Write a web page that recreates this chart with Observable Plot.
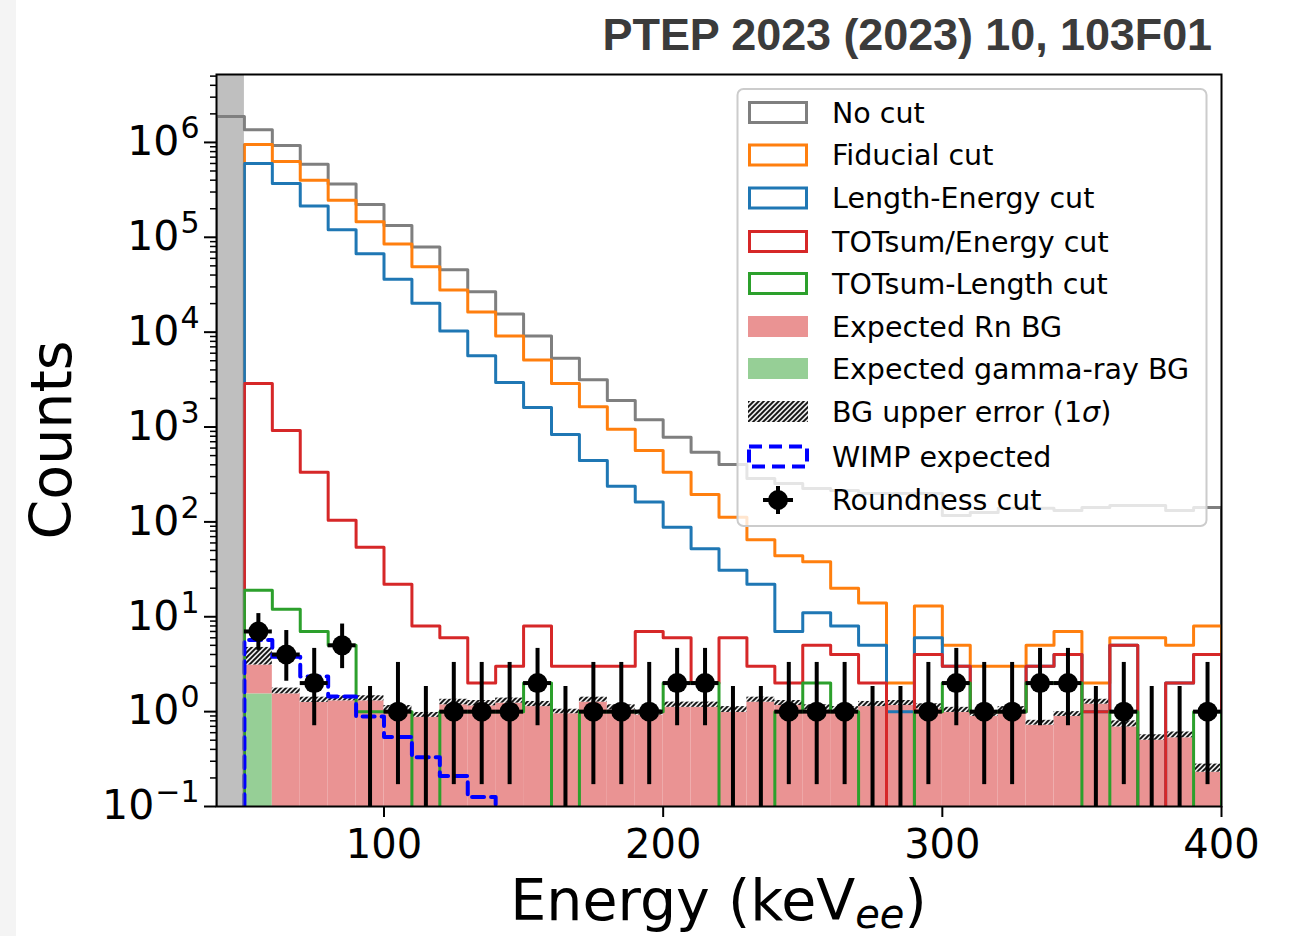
<!DOCTYPE html>
<html>
<head>
<meta charset="utf-8">
<script src="https://cdn.jsdelivr.net/npm/d3@7"></script>
<script src="https://cdn.jsdelivr.net/npm/@observablehq/plot@0.6"></script>
<style>
  html, body { margin: 0; padding: 0; background: #ffffff; }
  body { width: 1296px; height: 936px; position: relative; overflow: hidden; font-family: "DejaVu Sans", sans-serif; }
  #edge { position: absolute; left: 0; top: 0; width: 16px; height: 936px; background: #f4f4f4; }
  #header { position: relative; height: 64px; }
  #title { position: absolute; right: 84px; top: 12px; font: bold 45px "Liberation Sans", Arial, sans-serif; line-height: 45px; color: #3b3b3b; white-space: nowrap; letter-spacing: -0.1px; }
  #chart { position: absolute; left: 0; top: 64px; }
</style>
</head>
<body>
<div id="edge"></div>
<div id="header"><div id="title">PTEP 2023 (2023) 10, 103F01</div></div>
<div id="chart"></div>
<script>
// ---- Energy spectrum after each event-selection step (10 keV bins) ----
const binWidth = 10;
const binLow = [50, 60, 70, 80, 90, 100, 110, 120, 130, 140, 150, 160, 170, 180, 190, 200, 210, 220,
  230, 240, 250, 260, 270, 280, 290, 300, 310, 320, 330, 340, 350, 360, 370, 380, 390];

// "No cut" also has the 40-50 keV bin below threshold
const noCutLow = [40, ...binLow];
const noCut = [1.88e6, 1.36e6, 9.3e5, 5.9e5, 3.65e5, 2.22e5, 1.33e5, 7.9e4, 4.55e4, 2.67e4, 1.55e4,
  9.1e3, 5.3e3, 3.15e3, 1.9e3, 1.19e3, 780, 542, 402, 287, 254, 225, 214, 199, 199, 199,
  117, 126, 139, 139, 132, 142, 149, 149, 132, 142];
const fiducial = [9.5e5, 6.3e5, 4.0e5, 2.46e5, 1.46e5, 8.5e4, 4.9e4, 2.79e4, 1.63e4, 9.1e3, 5.1e3,
  2.88e3, 1.64e3, 946, 565, 334, 195, 112, 65, 44, 38, 20, 14, 2, 13, 5, 3, 3, 5, 7, 2, 6, 6, 5, 8];
const lengthEnergy = [5.98e5, 3.69e5, 2.14e5, 1.2e5, 6.7e4, 3.61e4, 2.02e4, 1.03e4, 5.64e3, 2.95e3,
  1.61e3, 832, 443, 238, 162, 88, 52, 31, 22, 7, 11, 8, 5, 1, 6, 3, 1, 1, 3, 4, 1, 5, 0, 2, 4];
const totEnergy = [2.88e3, 917, 334, 104, 54, 22, 8, 6, 2, 3, 8, 3, 3, 3, 7, 6, 2, 6, 3, 2, 5, 4, 2,
  0, 4, 3, 1, 1, 3, 4, 1, 5, 0, 2, 4];
const totLength = [19, 12, 7, 5, 1, 1, 0, 1, 1, 1, 2, 0, 1, 1, 1, 2, 2, 0, 0, 1, 2, 1, 0, 0, 1, 2,
  1, 1, 2, 2, 0, 1, 0, 0, 1];

// Final sample (roundness cut) with 1-sigma Poisson intervals
const roundness = [7, 4, 2, 5, 0, 1, 0, 1, 1, 1, 2, 0, 1, 1, 1, 2, 2, 0, 0, 1, 1, 1, 0, 0, 1, 2,
  1, 1, 2, 2, 0, 1, 0, 0, 1];
const errLow = [4.42, 2.09, 0.71, 2.84, 0, 0.17, 0, 0.17, 0.17, 0.17, 0.71, 0, 0.17, 0.17, 0.17,
  0.71, 0.71, 0, 0, 0.17, 0.17, 0.17, 0, 0, 0.17, 0.71, 0.17, 0.17, 0.71, 0.71, 0, 0.17, 0, 0, 0.17];
const errHigh = [10.8, 7.16, 4.64, 8.38, 1.84, 3.3, 1.84, 3.3, 3.3, 3.3, 4.64, 1.84, 3.3, 3.3, 3.3,
  4.64, 4.64, 1.84, 1.84, 3.3, 3.3, 3.3, 1.84, 1.84, 3.3, 4.64, 3.3, 3.3, 4.64, 4.64, 1.84, 3.3,
  1.84, 1.84, 3.3];

// Expected backgrounds and upper 1-sigma error on their sum
const rnBG = [1.56, 1.54, 1.25, 1.30, 1.30, 1.02, 0.87, 1.18, 1.15, 1.23, 1.13, 0.95, 1.26, 1.04,
  0.92, 1.11, 1.11, 0.98, 1.26, 1.16, 1.04, 0.99, 1.13, 1.16, 1.07, 0.98, 0.89, 0.99, 0.72, 0.89,
  1.2, 0.69, 0.50, 0.53, 0.23];
const gammaBG = [1.54, 0, 0, 0, 0, 0, 0, 0, 0, 0, 0, 0, 0, 0, 0, 0, 0, 0, 0, 0, 0, 0, 0, 0, 0, 0,
  0, 0, 0, 0, 0, 0, 0, 0, 0];
const bgErr = [1.65, 0.23, 0.17, 0.17, 0.17, 0.14, 0.11, 0.17, 0.16, 0.16, 0.15, 0.11, 0.16, 0.14,
  0.12, 0.15, 0.15, 0.15, 0.16, 0.15, 0.14, 0.14, 0.15, 0.15, 0.14, 0.13, 0.11, 0.14, 0.09, 0.11,
  0.15, 0.11, 0.07, 0.08, 0.05];

// Expected WIMP signal (falls below the axis after 140 keV)
const wimpLow = [50, 60, 70, 80, 90, 100, 110, 120, 130, 140];
const wimp = [5.7, 3.8, 2.35, 1.44, 0.89, 0.54, 0.33, 0.21, 0.126, 0.07];

// Region below the analysis threshold
const thresholdBand = [{from: 40, to: 50}];

// Axis ticks
const xTicks = [100, 200, 300, 400];
const yMajor = [0.1, 1, 10, 100, 1e3, 1e4, 1e5, 1e6];
const yExponent = ["\u22121", "0", "1", "2", "3", "4", "5", "6"];

// ---- styling ----
const FLOOR = 1e-3; // stand-in for zero on the log axis (clipped away)
const COLORS = {noCut: "#7f7f7f", fiducial: "#ff7f0e", lengthEnergy: "#1f77b4",
  totEnergy: "#d62728", totLength: "#2ca02c", wimp: "#0000ff"};
const RN_FILL = "#ea9393";
const GAMMA_FILL = "#96cf96";

// Outline of a step histogram, closed down to the floor at both ends
function stepOutline(lows, values) {
  const pts = [{x: lows[0], y: FLOOR}];
  lows.forEach((lo, i) => {
    const v = values[i] > 0 ? values[i] : FLOOR;
    pts.push({x: lo, y: v}, {x: lo + binWidth, y: v});
  });
  pts.push({x: lows[lows.length - 1] + binWidth, y: FLOOR});
  return pts;
}

const rows = binLow.map((lo, i) => ({
  lo, hi: lo + binWidth, mid: lo + binWidth / 2,
  n: roundness[i], eLo: errLow[i], eHi: errHigh[i],
  rn: rnBG[i], gamma: gammaBG[i], err: bgErr[i]
}));
const observed = rows.filter(d => d.n > 0);

const yMinor = [];
yMajor.forEach(m => { for (let k = 2; k <= 9; k++) if (m * k < 5.2e6) yMinor.push(m * k); });

const histLine = (lows, vals, color) =>
  Plot.line(stepOutline(lows, vals), {x: "x", y: "y", stroke: color, strokeWidth: 3, clip: true});

const chart = Plot.plot({
  width: 1296,
  height: 872,
  marginLeft: 216,
  marginRight: 75,
  marginTop: 10,
  marginBottom: 130,
  style: {fontFamily: "DejaVu Sans", fontSize: "40px", background: "transparent", overflow: "visible", color: "black"},
  x: {domain: [40, 400]},
  y: {type: "log", domain: [0.1, 5.2e6]},
  marks: [
    // expected backgrounds (stacked) and their upper error
    Plot.rect(rows.filter(d => d.gamma > 0), {x1: "lo", x2: "hi", y1: () => FLOOR, y2: "gamma", fill: GAMMA_FILL, clip: true}),
    Plot.rect(rows, {x1: "lo", x2: "hi", y1: d => d.gamma > 0 ? d.gamma : FLOOR, y2: d => d.gamma + d.rn, fill: RN_FILL, clip: true}),
    Plot.rect(rows, {x1: "lo", x2: "hi", y1: d => d.gamma + d.rn, y2: d => d.gamma + d.rn + d.err, fill: "url(#bgHatch)", clip: true}),
    // selection steps
    histLine(noCutLow, noCut, COLORS.noCut),
    histLine(binLow, fiducial, COLORS.fiducial),
    histLine(binLow, lengthEnergy, COLORS.lengthEnergy),
    histLine(binLow, totEnergy, COLORS.totEnergy),
    histLine(binLow, totLength, COLORS.totLength),
    // WIMP expectation
    Plot.line(stepOutline(wimpLow, wimp), {x: "x", y: "y", stroke: COLORS.wimp, strokeWidth: 4, strokeDasharray: "12,7", clip: true}),
    // threshold region
    Plot.rect(thresholdBand, {x1: "from", x2: "to", fill: "#808080", fillOpacity: 0.5}),
    // roundness-cut data with error bars
    Plot.ruleX(rows, {x: "mid", y1: d => d.eLo > 0 ? d.eLo : FLOOR, y2: "eHi", stroke: "black", strokeWidth: 4, clip: true}),
    Plot.ruleY(observed, {y: "n", x1: "lo", x2: "hi", stroke: "black", strokeWidth: 4}),
    Plot.dot(observed, {x: "mid", y: "n", r: 10, fill: "black", stroke: "none"}),
    // axes
    Plot.axisX({ticks: xTicks, tickSize: 11, tickPadding: 12, fontSize: 40, strokeWidth: 2, label: null, tickFormat: d => String(d)}),
    Plot.axisY({ticks: yMajor, tickSize: 12, tickPadding: 5, fontSize: 40, strokeWidth: 2, label: null,
      tickFormat: d => "10^" + yExponent[yMajor.indexOf(d)]}),
    Plot.axisY({ticks: yMinor, tickSize: 6, strokeWidth: 1.5, label: null, tickFormat: () => ""}),
    Plot.frame({stroke: "black", strokeWidth: 2})
  ]
});

const svg = d3.select(chart);
const TOP = 64; // page offset of the svg

// hatch pattern for the background error band
const defs = svg.insert("defs", ":first-child");
const pat = defs.append("pattern").attr("id", "bgHatch").attr("patternUnits", "userSpaceOnUse")
  .attr("width", 5).attr("height", 5);
pat.append("rect").attr("width", 5).attr("height", 5).attr("fill", "#e8e8e8");
pat.append("path").attr("d", "M-1,1 l2,-2 M0,5 l5,-5 M4,6 l2,-2")
  .attr("stroke", "#111").attr("stroke-width", 1.9);

// powers of ten with superscript exponents
svg.selectAll('g[aria-label="y-axis tick label"] text').each(function () {
  const parts = this.textContent.split("^");
  if (parts.length !== 2) return;
  const t = d3.select(this);
  t.text(null);
  t.append("tspan").attr("font-size", 41).text(parts[0]);
  t.append("tspan").attr("dx", 1).attr("dy", -17).attr("font-size", 30).text(parts[1]);
});

const page = svg.append("g").attr("transform", `translate(0,${-TOP})`).attr("text-anchor", "start");

// axis titles
const xl = page.append("text").attr("x", 718.5).attr("y", 920).attr("text-anchor", "middle")
  .attr("font-size", 57).attr("fill", "black");
xl.append("tspan").text("Energy (keV");
xl.append("tspan").attr("dy", 8).attr("font-size", 40).attr("font-style", "italic").text("ee");
xl.append("tspan").attr("dy", -8).text(")");
page.append("text").attr("transform", "translate(71,440) rotate(-90)").attr("text-anchor", "middle")
  .attr("font-size", 57).attr("fill", "black").text("Counts");

// legend
const legendRows = [
  {label: "No cut", kind: "step", color: COLORS.noCut, y: 112.5},
  {label: "Fiducial cut", kind: "step", color: COLORS.fiducial, y: 155},
  {label: "Length-Energy cut", kind: "step", color: COLORS.lengthEnergy, y: 198},
  {label: "TOTsum/Energy cut", kind: "step", color: COLORS.totEnergy, y: 241.5},
  {label: "TOTsum-Length cut", kind: "step", color: COLORS.totLength, y: 283.5},
  {label: "Expected Rn BG", kind: "fill", color: RN_FILL, y: 326.5},
  {label: "Expected gamma-ray BG", kind: "fill", color: GAMMA_FILL, y: 368.5},
  {label: "BG upper error (1\u03c3)", kind: "hatch", y: 411.5},
  {label: "WIMP expected", kind: "dash", color: COLORS.wimp, y: 456.5},
  {label: "Roundness cut", kind: "point", y: 500}
];
const lg = page.append("g").attr("text-anchor", "start");
lg.append("rect").attr("x", 737.5).attr("y", 89).attr("width", 469).attr("height", 437)
  .attr("rx", 6).attr("fill", "white").attr("fill-opacity", 0.8)
  .attr("stroke", "#cccccc").attr("stroke-width", 2);
legendRows.forEach(r => {
  if (r.kind === "step") {
    lg.append("rect").attr("x", 749.5).attr("y", r.y - 10).attr("width", 57).attr("height", 20)
      .attr("fill", "none").attr("stroke", r.color).attr("stroke-width", 3);
  } else if (r.kind === "fill") {
    lg.append("rect").attr("x", 748).attr("y", r.y - 10.5).attr("width", 60).attr("height", 21).attr("fill", r.color);
  } else if (r.kind === "hatch") {
    lg.append("rect").attr("x", 748).attr("y", r.y - 10.5).attr("width", 60).attr("height", 21).attr("fill", "url(#bgHatch)");
  } else if (r.kind === "dash") {
    lg.append("rect").attr("x", 749).attr("y", r.y - 10).attr("width", 58).attr("height", 20)
      .attr("fill", "none").attr("stroke", r.color).attr("stroke-width", 4).attr("stroke-dasharray", "13,7");
  } else {
    lg.append("line").attr("x1", 763).attr("x2", 793).attr("y1", r.y).attr("y2", r.y).attr("stroke", "black").attr("stroke-width", 4);
    lg.append("line").attr("x1", 778).attr("x2", 778).attr("y1", r.y - 14).attr("y2", r.y + 14).attr("stroke", "black").attr("stroke-width", 4);
    lg.append("circle").attr("cx", 778).attr("cy", r.y).attr("r", 10).attr("fill", "black");
  }
  const t = lg.append("text").attr("x", 832).attr("y", r.y).attr("dy", "0.36em")
    .attr("text-anchor", "start").attr("font-size", 28.5).attr("fill", "black");
  if (r.kind === "hatch") {
    t.append("tspan").text("BG upper error (1");
    t.append("tspan").attr("font-style", "italic").text("\u03c3");
    t.append("tspan").text(")");
  } else {
    t.text(r.label);
  }
});

document.getElementById("chart").appendChild(chart);
</script>
</body>
</html>
